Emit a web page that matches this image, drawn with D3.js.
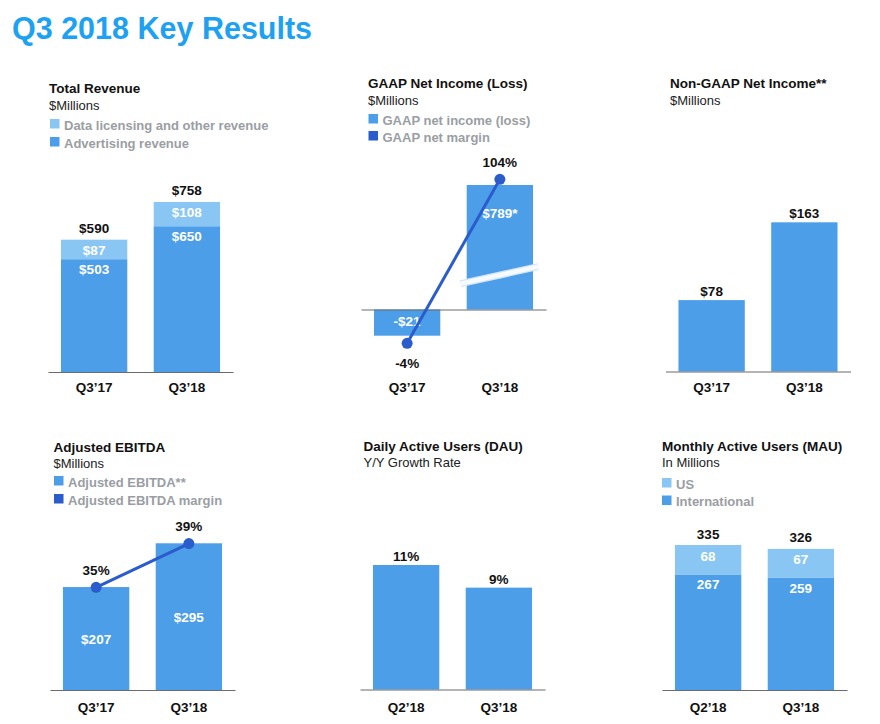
<!DOCTYPE html>
<html>
<head>
<meta charset="utf-8">
<script src="https://cdn.jsdelivr.net/npm/d3@7"></script>
<style>
  body { margin: 0; background: #fff; }
  text { font-family: "Liberation Sans", Arial, Helvetica, sans-serif; }
</style>
</head>
<body>
<svg id="chart" width="880" height="724"></svg>
<script>
// ---- data ----
const revQuarters = ["Q3’17", "Q3’18"];
const adRevenue = [503, 650];
const dataLicensing = [87, 108];
const totalRevenue = [590, 758];

const gaapQuarters = ["Q3’17", "Q3’18"];
const gaapNetIncome = [-21, 789];
const gaapNetMargin = [-4, 104];
const gaapFootnote = ["", "*"];

const nonGaapQuarters = ["Q3’17", "Q3’18"];
const nonGaapNetIncome = [78, 163];

const ebitdaQuarters = ["Q3’17", "Q3’18"];
const adjustedEbitda = [207, 295];
const ebitdaMargin = [35, 39];

const dauQuarters = ["Q2’18", "Q3’18"];
const dauGrowth = [11, 9];

const mauQuarters = ["Q2’18", "Q3’18"];
const mauInternational = [267, 259];
const mauUS = [68, 67];
const mauTotal = [335, 326];

// ---- styles ----
const BLUE = "#4c9ee8";
const LIGHT = "#89c6f3";
const DARK = "#2b5ccc";
const GREY = "#9a9ea3";
const INK = "#111";
const FS = 13.5;

const svg = d3.select("#chart");

svg.append("text")
  .attr("x", 12).attr("y", 38.5)
  .attr("font-size", 30.5).attr("font-weight", "bold")
  .attr("fill", "#1da1f2")
  .text("Q3 2018 Key Results");

const money = v => (v < 0 ? "-$" : "$") + Math.abs(v);

function header(x, y, title, sub) {
  svg.append("text").attr("x", x).attr("y", y)
    .attr("font-size", FS).attr("font-weight", "bold").attr("fill", INK)
    .text(title);
  svg.append("text").attr("x", x).attr("y", y + 16.5)
    .attr("font-size", 13).attr("fill", "#222")
    .text(sub);
}

function legend(x, y, gap, items) {
  const g = svg.append("g");
  items.forEach((it, i) => {
    g.append("rect")
      .attr("x", x).attr("y", y + i * gap - 10.5)
      .attr("width", 9.5).attr("height", 9.5)
      .attr("fill", it.color);
    g.append("text")
      .attr("x", x + 14).attr("y", y + i * gap)
      .attr("font-size", 13).attr("font-weight", "bold").attr("fill", GREY)
      .text(it.label);
  });
}

function bandScale(cats, left) {
  return d3.scaleBand().domain(cats).range([left, left + 185])
    .paddingInner(0.285).paddingOuter(0.14);
}

function xAxis(x, axisY, labelY) {
  const g = svg.append("g")
    .attr("transform", `translate(0,${axisY})`)
    .call(d3.axisBottom(x).tickSize(0).tickSizeOuter(0)
      .tickPadding(labelY - axisY - 0.71 * FS));
  g.select(".domain").attr("stroke", "#6b6b6b").attr("stroke-width", 1);
  g.selectAll("text")
    .attr("font-size", FS).attr("font-weight", "bold").attr("fill", INK)
    .attr("font-family", null);
}

function barLabels(x, cats, ys, texts, color) {
  svg.append("g").selectAll("text").data(cats).join("text")
    .attr("x", d => x(d) + x.bandwidth() / 2)
    .attr("y", (d, i) => ys[i])
    .attr("text-anchor", "middle")
    .attr("font-size", FS).attr("font-weight", "bold").attr("fill", color)
    .text((d, i) => texts[i]);
}

function marginLine(x, cats, y, values) {
  const pts = cats.map((c, i) => [x(c) + x.bandwidth() / 2, y(values[i])]);
  svg.append("path")
    .attr("d", d3.line()(pts))
    .attr("fill", "none").attr("stroke", DARK).attr("stroke-width", 3);
  svg.append("g").selectAll("circle").data(pts).join("circle")
    .attr("cx", d => d[0]).attr("cy", d => d[1]).attr("r", 5.5)
    .attr("fill", DARK);
}

// ---- Total Revenue ----
{
  header(49, 93, "Total Revenue", "$Millions");
  legend(50, 129.5, 18, [
    { label: "Data licensing and other revenue", color: LIGHT },
    { label: "Advertising revenue", color: BLUE }
  ]);
  const x = bandScale(revQuarters, 48);
  const y = d3.scaleLinear().domain([0, d3.max(totalRevenue)]).range([372, 202]);
  const stack = d3.stack().keys(["ad", "data"])(
    revQuarters.map((q, i) => ({ q, ad: adRevenue[i], data: dataLicensing[i] })));
  const colors = [BLUE, LIGHT];
  stack.forEach((layer, k) => {
    svg.append("g").selectAll("rect").data(layer).join("rect")
      .attr("x", d => x(d.data.q)).attr("width", x.bandwidth())
      .attr("y", d => y(d[1])).attr("height", d => y(d[0]) - y(d[1]))
      .attr("fill", colors[k]);
  });
  barLabels(x, revQuarters, totalRevenue.map(v => y(v) - 7), totalRevenue.map(money), INK);
  barLabels(x, revQuarters, totalRevenue.map(v => y(v) + 15), dataLicensing.map(money), "#fff");
  barLabels(x, revQuarters, adRevenue.map(v => y(v) + 15), adRevenue.map(money), "#fff");
  xAxis(x, 372, 391.5);
}

// ---- GAAP Net Income (Loss) ----
{
  header(368, 88, "GAAP Net Income (Loss)", "$Millions");
  legend(368.5, 124.5, 17, [
    { label: "GAAP net income (loss)", color: BLUE },
    { label: "GAAP net margin", color: DARK }
  ]);
  const x = bandScale(gaapQuarters, 361);
  // broken axis: the positive bar is cut, so the scale is piecewise
  const y = d3.scaleLinear().domain([-21, 0, 789]).range([335.7, 309.5, 185]);
  const m = d3.scaleLinear().domain([-4, 104]).range([343.3, 179.3]);
  svg.append("g").selectAll("rect").data(gaapQuarters).join("rect")
    .attr("x", d => x(d)).attr("width", x.bandwidth())
    .attr("y", (d, i) => Math.min(y(0), y(gaapNetIncome[i])))
    .attr("height", (d, i) => Math.abs(y(gaapNetIncome[i]) - y(0)))
    .attr("fill", BLUE);
  // break marks on the cut bar
  gaapQuarters.forEach((q, i) => {
    if (gaapNetIncome[i] < 100) return;
    const yc = y(0) - 0.276 * (y(0) - y(gaapNetIncome[i]));
    const brk = svg.append("g");
    [["#d3e6f8", 7], ["#f7fafe", 4.5]].forEach(([c, w]) => {
      brk.append("line")
        .attr("x1", x(q) - 6).attr("y1", yc + 8.5)
        .attr("x2", x(q) + x.bandwidth() + 5).attr("y2", yc - 8.5)
        .attr("stroke", c).attr("stroke-width", w);
    });
  });
  xAxis(x, 309.5, 391.5);
  barLabels(x, gaapQuarters,
    gaapNetIncome.map(v => v < 0 ? (y(0) + y(v)) / 2 + 3.5 : y(v) + 33),
    gaapNetIncome.map((v, i) => money(v) + gaapFootnote[i]), "#fff");
  barLabels(x, gaapQuarters,
    gaapNetMargin.map(v => v < 0 ? m(v) + 25 : m(v) - 12),
    gaapNetMargin.map(v => v + "%"), INK);
  marginLine(x, gaapQuarters, m, gaapNetMargin);
}

// ---- Non-GAAP Net Income ----
{
  header(670, 88, "Non-GAAP Net Income**", "$Millions");
  const x = bandScale(nonGaapQuarters, 665.5);
  const y = d3.scaleLinear().domain([0, d3.max(nonGaapNetIncome)]).range([371.5, 222.3]);
  svg.append("g").selectAll("rect").data(nonGaapQuarters).join("rect")
    .attr("x", d => x(d)).attr("width", x.bandwidth())
    .attr("y", (d, i) => y(nonGaapNetIncome[i]))
    .attr("height", (d, i) => y(0) - y(nonGaapNetIncome[i]))
    .attr("fill", BLUE);
  barLabels(x, nonGaapQuarters, nonGaapNetIncome.map(v => y(v) - 4), nonGaapNetIncome.map(money), INK);
  xAxis(x, 371.5, 391.5);
}

// ---- Adjusted EBITDA ----
{
  header(53.5, 451.5, "Adjusted EBITDA", "$Millions");
  legend(54, 486.5, 18, [
    { label: "Adjusted EBITDA**", color: BLUE },
    { label: "Adjusted EBITDA margin", color: DARK }
  ]);
  const x = bandScale(ebitdaQuarters, 50);
  const y = d3.scaleLinear().domain([0, d3.max(adjustedEbitda)]).range([690, 543.3]);
  const m = d3.scaleLinear().domain([35, 39]).range([587.3, 543.6]);
  svg.append("g").selectAll("rect").data(ebitdaQuarters).join("rect")
    .attr("x", d => x(d)).attr("width", x.bandwidth())
    .attr("y", (d, i) => y(adjustedEbitda[i]))
    .attr("height", (d, i) => y(0) - y(adjustedEbitda[i]))
    .attr("fill", BLUE);
  barLabels(x, ebitdaQuarters, adjustedEbitda.map(v => (y(v) + y(0)) / 2 + 5), adjustedEbitda.map(money), "#fff");
  barLabels(x, ebitdaQuarters, ebitdaMargin.map(v => m(v) - 12.5), ebitdaMargin.map(v => v + "%"), INK);
  marginLine(x, ebitdaQuarters, m, ebitdaMargin);
  xAxis(x, 690, 711.5);
}

// ---- Daily Active Users ----
{
  header(363.5, 450.5, "Daily Active Users (DAU)", "Y/Y Growth Rate");
  const x = bandScale(dauQuarters, 360);
  const y = d3.scaleLinear().domain([0, d3.max(dauGrowth)]).range([689.5, 565]);
  svg.append("g").selectAll("rect").data(dauQuarters).join("rect")
    .attr("x", d => x(d)).attr("width", x.bandwidth())
    .attr("y", (d, i) => y(dauGrowth[i]))
    .attr("height", (d, i) => y(0) - y(dauGrowth[i]))
    .attr("fill", BLUE);
  barLabels(x, dauQuarters, dauGrowth.map(v => y(v) - 4), dauGrowth.map(v => v + "%"), INK);
  xAxis(x, 689.5, 711.5);
}

// ---- Monthly Active Users ----
{
  header(662, 450.5, "Monthly Active Users (MAU)", "In Millions");
  legend(662, 488.5, 17.5, [
    { label: "US", color: LIGHT },
    { label: "International", color: BLUE }
  ]);
  const x = bandScale(mauQuarters, 662);
  const y = d3.scaleLinear().domain([0, d3.max(mauTotal)]).range([690, 545]);
  const stack = d3.stack().keys(["intl", "us"])(
    mauQuarters.map((q, i) => ({ q, intl: mauInternational[i], us: mauUS[i] })));
  const colors = [BLUE, LIGHT];
  stack.forEach((layer, k) => {
    svg.append("g").selectAll("rect").data(layer).join("rect")
      .attr("x", d => x(d.data.q)).attr("width", x.bandwidth())
      .attr("y", d => y(d[1])).attr("height", d => y(d[0]) - y(d[1]))
      .attr("fill", colors[k]);
  });
  barLabels(x, mauQuarters, mauTotal.map(v => y(v) - 6.5), mauTotal.map(String), INK);
  barLabels(x, mauQuarters, mauTotal.map(v => y(v) + 15.5), mauUS.map(String), "#fff");
  barLabels(x, mauQuarters, mauInternational.map(v => y(v) + 15), mauInternational.map(String), "#fff");
  xAxis(x, 690, 711.5);
}
</script>
</body>
</html>
